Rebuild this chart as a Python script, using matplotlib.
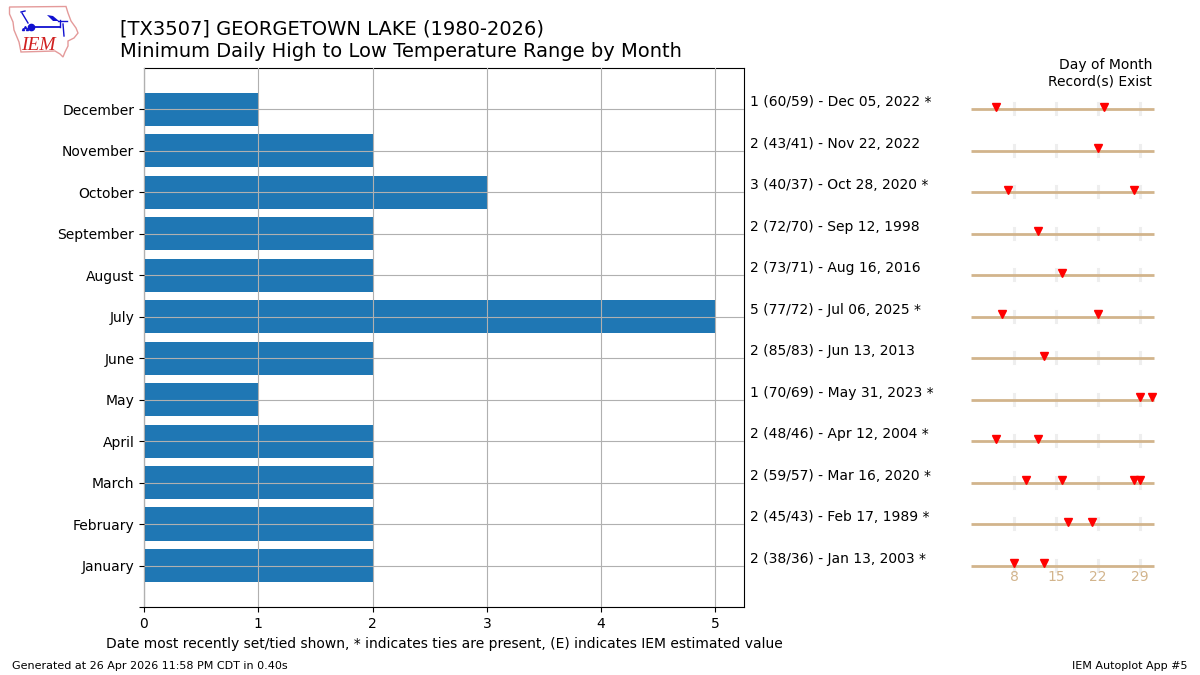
import matplotlib
matplotlib.use("Agg")
import matplotlib.pyplot as plt
from matplotlib.patches import Polygon

# ==========================================
# DATA
# ==========================================
months = ['January', 'February', 'March', 'April', 'May', 'June', 'July',
          'August', 'September', 'October', 'November', 'December']
min_range = [2, 2, 2, 2, 1, 2, 5, 2, 2, 3, 2, 1]
labels = ['2 (38/36) - Jan 13, 2003 *', '2 (45/43) - Feb 17, 1989 *',
          '2 (59/57) - Mar 16, 2020 *', '2 (48/46) - Apr 12, 2004 *',
          '1 (70/69) - May 31, 2023 *', '2 (85/83) - Jun 13, 2013',
          '5 (77/72) - Jul 06, 2025 *', '2 (73/71) - Aug 16, 2016',
          '2 (72/70) - Sep 12, 1998', '3 (40/37) - Oct 28, 2020 *',
          '2 (43/41) - Nov 22, 2022', '1 (60/59) - Dec 05, 2022 *']
record_days = [[8, 13], [17, 21], [10, 16, 28, 29], [5, 12], [29, 31], [13],
               [6, 22], [16], [12], [7, 28], [22], [5, 23]]

W, H = 1200.0, 675.0
TAN = '#d2b48c'
AX_TOP, AX_BOTTOM = 67.8, 607.0

fig = plt.figure(figsize=(12, 6.75), dpi=100)

# main bar chart
ax = fig.add_axes([144 / W, 1 - AX_BOTTOM / H, 600 / W, (AX_BOTTOM - AX_TOP) / H])
ax.barh(range(12), min_range, height=0.8, color='tab:blue')
ax.set_yticks(list(range(-1, 12)))
ax.set_yticklabels([''] + months)
ax.set_xticks(range(6))
ax.set_xlim(0, 5.25)
ax.set_ylim(-1, 12)
ax.grid(True)
ax.set_axisbelow(False)
ax.set_xlabel('Date most recently set/tied shown, * indicates ties are present, '
              '(E) indicates IEM estimated value', labelpad=4.4)

# label next to each bar, placed from the bar's row
for i, lab in enumerate(labels):
    ax.annotate(lab, xy=(1, i), xycoords=('axes fraction', 'data'),
                xytext=(6, 7), textcoords='offset pixels',
                va='center', ha='left', fontsize=10, annotation_clip=False)

# small strip per month showing which days hold the record
row_px = (AX_BOTTOM - AX_TOP) / 13.0
for i, days in enumerate(record_days):
    y_center = AX_BOTTOM - row_px * (i + 1)
    sub = fig.add_axes([971 / W, 1 - (y_center + 0.1) / H, 183 / W, 18 / H])
    sub.patch.set_alpha(0)
    sub.set_xlim(0.83, 31.33)
    sub.set_ylim(0, 18)
    for name in ['top', 'left', 'right']:
        sub.spines[name].set_visible(False)
    sub.spines['bottom'].set_color(TAN)
    sub.spines['bottom'].set_linewidth(2.0)
    sub.spines['bottom'].set_capstyle('butt')
    sub.set_yticks([])
    sub.set_xticks([8, 15, 22, 29])
    sub.tick_params(axis='x', length=0, colors=TAN, pad=3.5)
    if i != 0:
        sub.set_xticklabels([])
    for d in [8, 15, 22, 29]:
        sub.plot([d, d], [-5, 6], color='#eeeeee', lw=2.2, zorder=1, clip_on=False)
    sub.plot(days, [2.6] * len(days), linestyle='none', marker='v', color='red',
             markersize=5.5, zorder=3, clip_on=False)
    sub.spines['bottom'].set_zorder(2)

fig.text(1152 / W, 1 - 73 / H, 'Day of Month\nRecord(s) Exist', ha='right',
         va='center', fontsize=10)

# titles
fig.text(120 / W, 1 - 40.5 / H,
         '[TX3507] GEORGETOWN LAKE (1980-2026)\nMinimum Daily High to Low Temperature Range by Month',
         ha='left', va='center', fontsize=14, linespacing=1.22)

# footer
fig.text(12 / W, 1 - 666 / H, 'Generated at 26 Apr 2026 11:58 PM CDT in 0.40s',
         ha='left', va='center', fontsize=8)
fig.text(1188 / W, 1 - 666 / H, 'IEM Autoplot App #5', ha='right', va='center', fontsize=8)

# logo: state outline with station symbol, in pixel coordinates
logo = fig.add_axes([0, 1 - 70 / H, 90 / W, 70 / H])
logo.set_xlim(0, 90)
logo.set_ylim(70, 0)
logo.axis('off')
outline = [(9.5, 7), (66, 6.5), (68, 13), (71, 21), (76, 28), (78, 33), (74, 38),
           (68, 41), (68, 46), (65, 52), (63, 57), (60, 54), (55, 51), (21, 52),
           (19, 42), (14, 30), (13, 22), (9.5, 14)]
logo.add_patch(Polygon(outline, closed=True, fill=False, edgecolor='#e49a9a', lw=1))
logo.plot([31, 60], [26.5, 26.5], color='#1010d0', lw=1.3)
logo.plot([31], [26.5], 'o', color='#1010d0', ms=4.5)
logo.add_patch(Polygon([(47, 15), (53, 16), (59, 21), (53, 21)], closed=True, color='#1010d0', lw=0))
logo.plot([58, 67], [20.5, 20.5], color='#1010d0', lw=1)
logo.plot([60, 60], [20, 27], color='#1010d0', lw=1)
logo.plot([63, 64], [24, 36], color='#1010d0', lw=1)
logo.plot([22, 28], [13, 23], color='#1010d0', lw=1)
logo.plot([21, 25], [12, 11], color='#1010d0', lw=1)
logo.plot([23, 25, 27], [29, 27, 29], linestyle='none', marker='^', ms=1.5, color='#1010d0')
logo.text(21, 45, 'IEM', color='#d02020', family='Liberation Serif', style='italic',
          fontsize=14, ha='left', va='center')

fig.savefig('out.png', dpi=100)
